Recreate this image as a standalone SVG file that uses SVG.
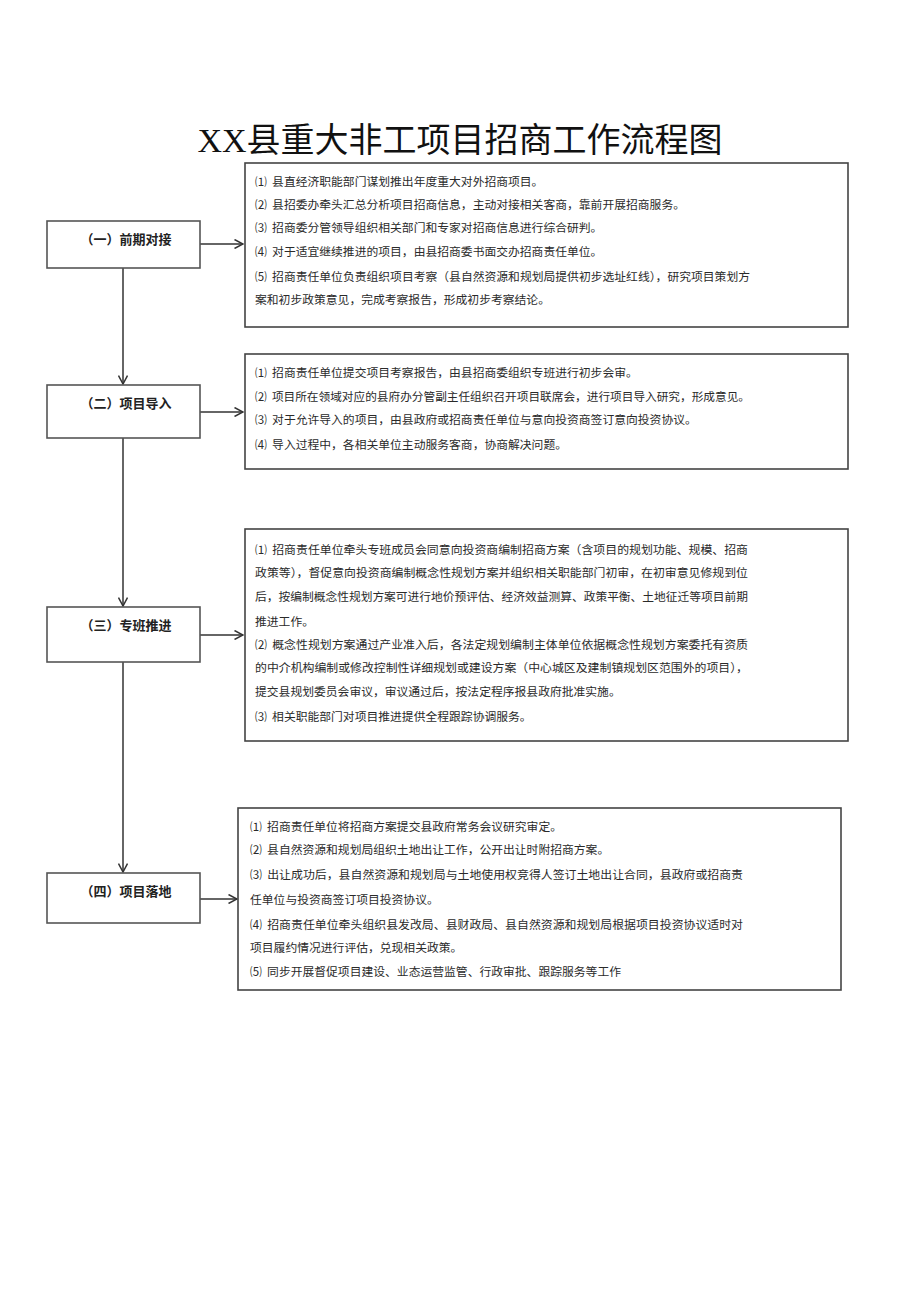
<svg xmlns="http://www.w3.org/2000/svg" width="920" height="1301" viewBox="0 0 920 1301">
<style>
.title{font-family:"Liberation Serif","Noto Sans CJK SC",serif;font-size:34px;fill:#111;}
.node rect{fill:#fff;stroke:#555;stroke-width:1.6;}
.lbl{font-family:"Noto Sans CJK SC",sans-serif;font-size:13px;font-weight:bold;fill:#222;text-anchor:middle;}
.box{fill:#fff;stroke:#444;stroke-width:1.6;}
.t{font-family:"Noto Sans CJK SC",sans-serif;font-size:11.8px;fill:#2a2a2a;}
.conn line{stroke:#333;stroke-width:1.5;fill:none;}
</style>
<defs>
<marker id="ah" viewBox="0 0 10 10" refX="9.5" refY="5" markerWidth="10" markerHeight="10" markerUnits="userSpaceOnUse" orient="auto">
<path d="M1,0.5 L9.5,5 L1,9.5" fill="none" stroke="#333" stroke-width="1.5"/>
</marker>
</defs>
<rect width="920" height="1301" fill="#fff"/>
<text class="title" x="460" y="152" text-anchor="middle">XX县重大非工项目招商工作流程图</text>

<g id="connectors" class="conn">
<line x1="123" y1="268" x2="123" y2="384" marker-end="url(#ah)"/>
<line x1="123" y1="438" x2="123" y2="606" marker-end="url(#ah)"/>
<line x1="123" y1="662" x2="123" y2="872" marker-end="url(#ah)"/>
<line x1="200" y1="244" x2="243" y2="244" marker-end="url(#ah)"/>
<line x1="200" y1="412" x2="243" y2="412" marker-end="url(#ah)"/>
<line x1="200" y1="635" x2="243" y2="635" marker-end="url(#ah)"/>
<line x1="200" y1="899" x2="237" y2="899" marker-end="url(#ah)"/>
</g>

<g id="node1" class="node"><rect x="47" y="221" width="153" height="47"/><text class="lbl" x="126" y="244">（一）前期对接</text></g>
<g id="node2" class="node"><rect x="47" y="385" width="153" height="53"/><text class="lbl" x="126" y="408">（二）项目导入</text></g>
<g id="node3" class="node"><rect x="47" y="607" width="153" height="55"/><text class="lbl" x="126" y="630">（三）专班推进</text></g>
<g id="node4" class="node"><rect x="47" y="873" width="153" height="50"/><text class="lbl" x="126" y="896">（四）项目落地</text></g>

<g id="box1">
<rect class="box" x="245" y="163" width="603" height="164"/>
<text class="t" x="255" y="186">⑴&#160;&#160;县直经济职能部门谋划推出年度重大对外招商项目。</text>
<text class="t" x="255" y="209">⑵&#160;&#160;县招委办牵头汇总分析项目招商信息，主动对接相关客商，靠前开展招商服务。</text>
<text class="t" x="255" y="232">⑶&#160;&#160;招商委分管领导组织相关部门和专家对招商信息进行综合研判。</text>
<text class="t" x="255" y="256">⑷&#160;&#160;对于适宜继续推进的项目，由县招商委书面交办招商责任单位。</text>
<text class="t" x="255" y="281" textLength="495" lengthAdjust="spacingAndGlyphs">⑸&#160;&#160;招商责任单位负责组织项目考察（县自然资源和规划局提供初步选址红线），研究项目策划方</text>
<text class="t" x="255" y="304">案和初步政策意见，完成考察报告，形成初步考察结论。</text>
</g>

<g id="box2">
<rect class="box" x="245" y="354" width="603" height="115"/>
<text class="t" x="255" y="377">⑴&#160;&#160;招商责任单位提交项目考察报告，由县招商委组织专班进行初步会审。</text>
<text class="t" x="255" y="401" textLength="495" lengthAdjust="spacingAndGlyphs">⑵&#160;&#160;项目所在领域对应的县府办分管副主任组织召开项目联席会，进行项目导入研究，形成意见。</text>
<text class="t" x="255" y="424">⑶&#160;&#160;对于允许导入的项目，由县政府或招商责任单位与意向投资商签订意向投资协议。</text>
<text class="t" x="255" y="449">⑷&#160;&#160;导入过程中，各相关单位主动服务客商，协商解决问题。</text>
</g>

<g id="box3">
<rect class="box" x="245" y="529" width="603" height="212"/>
<text class="t" x="255" y="554" textLength="493" lengthAdjust="spacingAndGlyphs">⑴&#160;&#160;招商责任单位牵头专班成员会同意向投资商编制招商方案（含项目的规划功能、规模、招商</text>
<text class="t" x="255" y="577" textLength="493" lengthAdjust="spacingAndGlyphs">政策等），督促意向投资商编制概念性规划方案并组织相关职能部门初审，在初审意见修规到位</text>
<text class="t" x="255" y="601" textLength="493" lengthAdjust="spacingAndGlyphs">后，按编制概念性规划方案可进行地价预评估、经济效益测算、政策平衡、土地征迁等项目前期</text>
<text class="t" x="255" y="626">推进工作。</text>
<text class="t" x="255" y="649" textLength="493" lengthAdjust="spacingAndGlyphs">⑵&#160;&#160;概念性规划方案通过产业准入后，各法定规划编制主体单位依据概念性规划方案委托有资质</text>
<text class="t" x="255" y="672" textLength="493" lengthAdjust="spacingAndGlyphs">的中介机构编制或修改控制性详细规划或建设方案（中心城区及建制镇规划区范围外的项目），</text>
<text class="t" x="255" y="696">提交县规划委员会审议，审议通过后，按法定程序报县政府批准实施。</text>
<text class="t" x="255" y="721">⑶&#160;&#160;相关职能部门对项目推进提供全程跟踪协调服务。</text>
</g>

<g id="box4">
<rect class="box" x="238" y="808" width="603" height="182"/>
<text class="t" x="250" y="831">⑴&#160;&#160;招商责任单位将招商方案提交县政府常务会议研究审定。</text>
<text class="t" x="250" y="854">⑵&#160;&#160;县自然资源和规划局组织土地出让工作，公开出让时附招商方案。</text>
<text class="t" x="250" y="879" textLength="493" lengthAdjust="spacingAndGlyphs">⑶&#160;&#160;出让成功后，县自然资源和规划局与土地使用权竞得人签订土地出让合同，县政府或招商责</text>
<text class="t" x="250" y="904">任单位与投资商签订项目投资协议。</text>
<text class="t" x="250" y="929" textLength="493" lengthAdjust="spacingAndGlyphs">⑷&#160;&#160;招商责任单位牵头组织县发改局、县财政局、县自然资源和规划局根据项目投资协议适时对</text>
<text class="t" x="250" y="952">项目履约情况进行评估，兑现相关政策。</text>
<text class="t" x="250" y="976">⑸&#160;&#160;同步开展督促项目建设、业态运营监管、行政审批、跟踪服务等工作</text>
</g>
</svg>
